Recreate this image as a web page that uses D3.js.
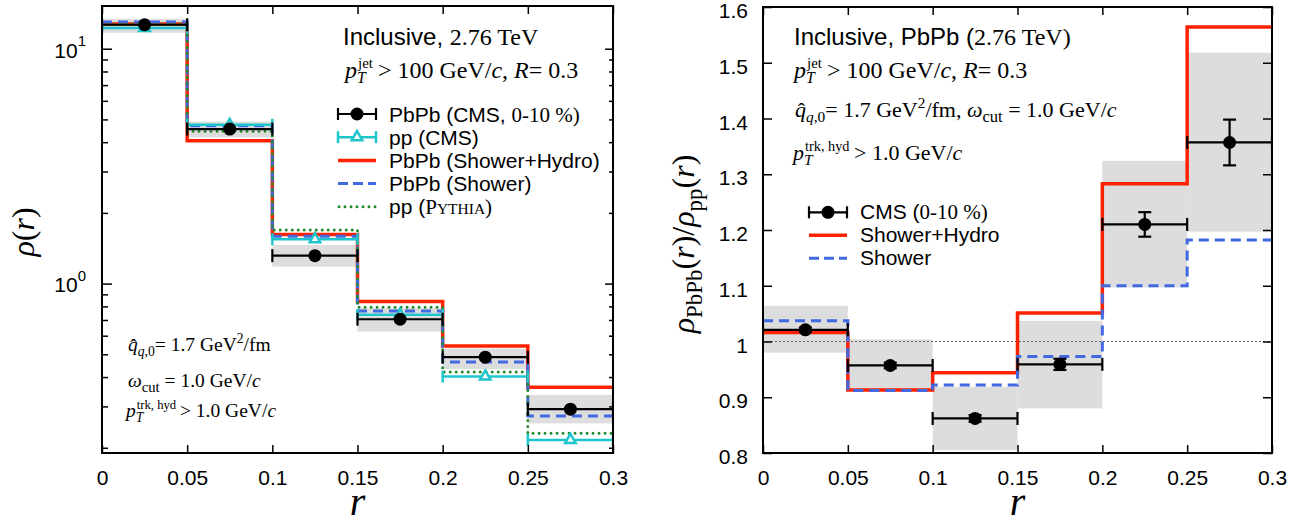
<!DOCTYPE html>
<html>
<head>
<meta charset="utf-8">
<script src="https://cdn.jsdelivr.net/npm/d3@7"></script>
<style>
  body { margin: 0; background: #fff; }
  text { white-space: pre; }
</style>
</head>
<body>
<svg id="chart" width="1308" height="525"></svg>
<script>
// ---- data ----
const binEdges = [0, 0.05, 0.1, 0.15, 0.2, 0.25, 0.3];
const binCenters = [0.025, 0.075, 0.125, 0.175, 0.225, 0.275];
const xTicks = [0, 0.05, 0.1, 0.15, 0.2, 0.25, 0.3];
const xTickLabels = ["0", "0.05", "0.1", "0.15", "0.2", "0.25", "0.3"];

// left panel: rho(r)
const cmsPbPb = [12.65, 4.55, 1.315, 0.705, 0.486, 0.292];
const cmsPbPbSysLo = [11.7, 4.19, 1.18, 0.625, 0.432, 0.254];
const cmsPbPbSysHi = [13.4, 4.90, 1.46, 0.785, 0.528, 0.336];
const cmsPp = [12.25, 4.74, 1.546, 0.736, 0.402, 0.216];
const showerHydro = [12.75, 4.06, 1.62, 0.838, 0.542, 0.362];
const shower = [13.0, 4.70, 1.59, 0.765, 0.464, 0.273];
const pythia = [12.7, 4.45, 1.69, 0.793, 0.42, 0.2305];
const logMajor = [1, 10];
const logMinor = [0.2, 0.3, 0.4, 0.5, 0.6, 0.7, 0.8, 0.9, 2, 3, 4, 5, 6, 7, 8, 9];

// right panel: ratio PbPb / pp
const ratioCms = [1.021, 0.957, 0.862, 0.959, 1.210, 1.357];
const ratioStat = [0.004, 0.005, 0.006, 0.010, 0.022, 0.041];
const ratioSysLo = [0.980, 0.913, 0.805, 0.880, 1.097, 1.197];
const ratioSysHi = [1.064, 1.004, 0.919, 1.037, 1.324, 1.518];
const ratioShowerHydro = [1.016, 0.913, 0.944, 1.051, 1.283, 1.564];
const ratioShower = [1.037, 0.912, 0.922, 0.973, 1.100, 1.182];
const ratioTicks = [0.8, 0.9, 1, 1.1, 1.2, 1.3, 1.4, 1.5, 1.6];
const ratioTickLabels = ["0.8", "0.9", "1", "1.1", "1.2", "1.3", "1.4", "1.5", "1.6"];

// ---- styles ----
const SANS = "'Liberation Sans', Arial, Helvetica, sans-serif";
const SERIF = "'Liberation Serif', 'Times New Roman', serif";
const RED = "#ff2200", BLUE = "#4169e1", GREEN = "#24892a", CYAN = "#1ec6cc", BAND = "#dddddd";

const svg = d3.select("#chart");

// text made of pieces (sub/superscripts, mixed fonts); returns width
function rich(g, x, y, segs) {
  let cx = x, prevStart = x;
  segs.forEach(sg => {
    const start = sg.stack ? prevStart : cx;
    const el = g.append("text")
      .attr("x", start + (sg.dx || 0))
      .attr("y", y + (sg.dy || 0))
      .attr("font-family", sg.f === "sans" ? SANS : SERIF)
      .attr("font-size", sg.s)
      .attr("font-style", sg.i ? "italic" : null)
      .attr("fill", "#000")
      .text(sg.t);
    const w = el.node().getComputedTextLength();
    if (sg.stack) cx = Math.max(cx, start + w);
    else { prevStart = start; cx = start + w; }
  });
  return cx - x;
}

function stepLine(x, y, vals) {
  const pts = vals.map((v, i) => [binEdges[i], v]);
  pts.push([binEdges[binEdges.length - 1], vals[vals.length - 1]]);
  return d3.line().x(d => x(d[0])).y(d => y(d[1])).curve(d3.curveStepAfter)(pts);
}

function frameAndTicks(g, x, left, right, top, bottom) {
  g.append("g").attr("transform", `translate(0,${bottom})`)
    .call(d3.axisBottom(x).tickValues(xTicks).tickSize(-8).tickSizeOuter(0).tickPadding(17)
      .tickFormat((d, i) => xTickLabels[i]))
    .call(a => a.select(".domain").remove())
    .call(a => a.selectAll(".tick line").attr("stroke-width", 1.5))
    .call(a => a.selectAll(".tick text").attr("font-family", SANS).attr("font-size", 21).attr("fill", "#000"));
  g.append("g").attr("transform", `translate(0,${top})`)
    .call(d3.axisTop(x).tickValues(xTicks).tickSize(-8).tickSizeOuter(0).tickFormat(""))
    .call(a => a.select(".domain").remove())
    .call(a => a.selectAll(".tick line").attr("stroke-width", 1.5));
  g.append("rect")
    .attr("x", left).attr("y", top).attr("width", right - left).attr("height", bottom - top)
    .attr("fill", "none").attr("stroke", "#000").attr("stroke-width", 2);
}

// annotation pieces, s = base font size
const ptJet = s => [
  { t: "p", s: s, i: true },
  { t: "T", s: s * 0.66, i: true, dy: s * 0.22 },
  { t: "jet", s: s * 0.62, dy: -s * 0.4, stack: true, dx: 1 },
  { t: " > 100 GeV/", s: s },
  { t: "c", s: s, i: true },
  { t: ", ", s: s },
  { t: "R", s: s, i: true },
  { t: "= 0.3", s: s }
];
const qhat = s => [
  { t: "q", s: s, i: true },
  { t: "ˆ", s: s, stack: true, dx: s * 0.12, dy: s * 0.06 },
  { t: "q", s: s * 0.7, i: true, dy: s * 0.24 },
  { t: ",0", s: s * 0.7, dy: s * 0.24 },
  { t: "= 1.7 GeV", s: s },
  { t: "2", s: s * 0.7, dy: -s * 0.4 },
  { t: "/fm", s: s }
];
const wcut = s => [
  { t: "ω", s: s, i: true },
  { t: "cut", s: s * 0.75, dy: s * 0.24 },
  { t: " = 1.0 GeV/", s: s },
  { t: "c", s: s, i: true }
];
const ptrk = s => [
  { t: "p", s: s, i: true },
  { t: "T", s: s * 0.7, i: true, dy: s * 0.24 },
  { t: "trk, hyd", s: s * 0.65, dy: -s * 0.4, stack: true, dx: 1 },
  { t: " > 1.0 GeV/", s: s },
  { t: "c", s: s, i: true }
];

// =================== LEFT PANEL ===================
const L = { left: 102, right: 613, top: 6, bottom: 453 };
const xL = d3.scaleLinear().domain([0, 0.3]).range([L.left, L.right]);
const yL = d3.scaleLog().domain([0.19, 15.2]).range([L.bottom, L.top]);
const gL = svg.append("g");

svg.append("clipPath").attr("id", "clipL").append("rect")
  .attr("x", L.left).attr("y", L.top).attr("width", L.right - L.left).attr("height", L.bottom - L.top);
const pL = gL.append("g").attr("clip-path", "url(#clipL)");

// systematic bands
pL.selectAll("rect.band").data(cmsPbPb).join("rect")
  .attr("x", (d, i) => xL(binEdges[i]))
  .attr("width", (d, i) => xL(binEdges[i + 1]) - xL(binEdges[i]))
  .attr("y", (d, i) => yL(cmsPbPbSysHi[i]))
  .attr("height", (d, i) => yL(cmsPbPbSysLo[i]) - yL(cmsPbPbSysHi[i]))
  .attr("fill", BAND);

pL.append("path").attr("d", stepLine(xL, yL, showerHydro))
  .attr("fill", "none").attr("stroke", RED).attr("stroke-width", 3.5);
pL.append("path").attr("d", stepLine(xL, yL, shower))
  .attr("fill", "none").attr("stroke", BLUE).attr("stroke-width", 3).attr("stroke-dasharray", "10,6");
pL.append("path").attr("d", stepLine(xL, yL, pythia))
  .attr("fill", "none").attr("stroke", GREEN).attr("stroke-width", 3)
  .attr("stroke-dasharray", "0,6").attr("stroke-linecap", "round");

// pp CMS: horizontal bars with caps + open triangle
const ppG = pL.append("g").attr("stroke", CYAN).attr("stroke-width", 2.5).attr("fill", "none");
cmsPp.forEach((v, i) => {
  const yy = yL(v), x0 = xL(binEdges[i]), x1 = xL(binEdges[i + 1]);
  ppG.append("line").attr("x1", x0).attr("x2", x1).attr("y1", yy).attr("y2", yy);
  ppG.append("line").attr("x1", x0).attr("x2", x0).attr("y1", yy - 6).attr("y2", yy + 6);
  ppG.append("line").attr("x1", x1).attr("x2", x1).attr("y1", yy - 6).attr("y2", yy + 6);
  ppG.append("path").attr("d", d3.symbol(d3.symbolTriangle, 48)())
    .attr("transform", `translate(${xL(binCenters[i])},${yy})`).attr("fill", "#fff");
});

// PbPb CMS: black points with horizontal bars
const cmsG = pL.append("g").attr("stroke", "#000").attr("stroke-width", 2.2);
cmsPbPb.forEach((v, i) => {
  const yy = yL(v), x0 = xL(binEdges[i]), x1 = xL(binEdges[i + 1]);
  cmsG.append("line").attr("x1", x0).attr("x2", x1).attr("y1", yy).attr("y2", yy);
  cmsG.append("line").attr("x1", x0).attr("x2", x0).attr("y1", yy - 6.5).attr("y2", yy + 6.5);
  cmsG.append("line").attr("x1", x1).attr("x2", x1).attr("y1", yy - 6.5).attr("y2", yy + 6.5);
  cmsG.append("circle").attr("cx", xL(binCenters[i])).attr("cy", yy).attr("r", 6.5)
    .attr("fill", "#000").attr("stroke", "none");
});

// log axis ticks
gL.append("g").attr("transform", `translate(${L.left},0)`)
  .call(d3.axisLeft(yL).tickValues(logMinor).tickSize(-6).tickFormat(""))
  .call(a => a.select(".domain").remove())
  .call(a => a.selectAll(".tick line").attr("stroke-width", 1.5));
gL.append("g").attr("transform", `translate(${L.left},0)`)
  .call(d3.axisLeft(yL).tickValues(logMajor).tickSize(-10).tickPadding(16).tickFormat(""))
  .call(a => a.select(".domain").remove())
  .call(a => a.selectAll(".tick line").attr("stroke-width", 1.5))
  .call(a => a.selectAll(".tick text").each(function (d) {
    const t = d3.select(this).attr("font-family", SANS).attr("font-size", 21).attr("fill", "#000").attr("dy", "0.4em");
    t.append("tspan").text("10");
    t.append("tspan").attr("font-size", 15).attr("dy", "-0.75em").text(String(Math.round(Math.log10(d))));
  }));
gL.append("g").attr("transform", `translate(${L.right},0)`)
  .call(d3.axisRight(yL).tickValues(logMinor).tickSize(-4).tickFormat(""))
  .call(a => a.select(".domain").remove())
  .call(a => a.selectAll(".tick line").attr("stroke-width", 1.5));
gL.append("g").attr("transform", `translate(${L.right},0)`)
  .call(d3.axisRight(yL).tickValues(logMajor).tickSize(-8).tickFormat(""))
  .call(a => a.select(".domain").remove())
  .call(a => a.selectAll(".tick line").attr("stroke-width", 1.5));

frameAndTicks(gL, xL, L.left, L.right, L.top, L.bottom);

// left texts
rich(gL, 343, 45, [
  { t: "Inclusive, ", f: "sans", s: 24 },
  { t: "2.76 TeV", s: 24 }
]);
rich(gL, 345, 78, ptJet(24));
rich(gL, 128, 351, qhat(19.5));
rich(gL, 128, 387, wcut(19.5));
rich(gL, 126, 417, ptrk(19.5));

// left legend
const legL = gL.append("g");
const lgX1 = 338, lgX2 = 376, lgTx = 389;
const lgRows = [114, 137.2, 160.4, 183.6, 206.8];
legL.append("line").attr("x1", lgX1).attr("x2", lgX2).attr("y1", lgRows[0]).attr("y2", lgRows[0]).attr("stroke", "#000").attr("stroke-width", 2.2);
[lgX1, lgX2].forEach(xx => legL.append("line").attr("x1", xx).attr("x2", xx).attr("y1", lgRows[0] - 6).attr("y2", lgRows[0] + 6).attr("stroke", "#000").attr("stroke-width", 2.2));
legL.append("circle").attr("cx", (lgX1 + lgX2) / 2).attr("cy", lgRows[0]).attr("r", 6.5).attr("fill", "#000");
legL.append("line").attr("x1", lgX1).attr("x2", lgX2).attr("y1", lgRows[1]).attr("y2", lgRows[1]).attr("stroke", CYAN).attr("stroke-width", 2.5);
[lgX1, lgX2].forEach(xx => legL.append("line").attr("x1", xx).attr("x2", xx).attr("y1", lgRows[1] - 6).attr("y2", lgRows[1] + 6).attr("stroke", CYAN).attr("stroke-width", 2.5));
legL.append("path").attr("d", d3.symbol(d3.symbolTriangle, 48)()).attr("transform", `translate(${(lgX1 + lgX2) / 2},${lgRows[1]})`)
  .attr("fill", "#fff").attr("stroke", CYAN).attr("stroke-width", 2.5);
legL.append("line").attr("x1", lgX1).attr("x2", lgX2).attr("y1", lgRows[2]).attr("y2", lgRows[2]).attr("stroke", RED).attr("stroke-width", 3.5);
legL.append("line").attr("x1", lgX1).attr("x2", lgX2).attr("y1", lgRows[3]).attr("y2", lgRows[3]).attr("stroke", BLUE).attr("stroke-width", 3).attr("stroke-dasharray", "10,5");
legL.append("line").attr("x1", lgX1 + 1).attr("x2", lgX2).attr("y1", lgRows[4]).attr("y2", lgRows[4]).attr("stroke", GREEN).attr("stroke-width", 3).attr("stroke-dasharray", "0,6").attr("stroke-linecap", "round");
rich(legL, lgTx, lgRows[0] + 7.5, [{ t: "PbPb (CMS, ", f: "sans", s: 21 }, { t: "0-10 %)", s: 21 }]);
rich(legL, lgTx, lgRows[1] + 7.5, [{ t: "pp (CMS)", f: "sans", s: 21 }]);
rich(legL, lgTx, lgRows[2] + 7.5, [{ t: "PbPb (Shower+Hydro)", f: "sans", s: 21 }]);
rich(legL, lgTx, lgRows[3] + 7.5, [{ t: "PbPb (Shower)", f: "sans", s: 21 }]);
rich(legL, lgTx, lgRows[4] + 7.5, [{ t: "pp (", f: "sans", s: 21 }, { t: "P", s: 21 }, { t: "YTHIA", s: 15.5 }, { t: ")", s: 21 }]);

// axis labels
const ylabL = gL.append("g");
const wL = rich(ylabL, 0, 0, [{ t: "ρ", s: 32, i: true }, { t: "(", s: 32 }, { t: "r", s: 32, i: true }, { t: ")", s: 32 }]);
ylabL.attr("transform", `translate(34,232) rotate(-90) translate(${-wL / 2},0)`);
gL.append("text").attr("x", xL(0.15)).attr("y", 515).attr("text-anchor", "middle")
  .attr("font-family", SERIF).attr("font-style", "italic").attr("font-size", 40).text("r");

// =================== RIGHT PANEL ===================
const R = { left: 763, right: 1272, top: 7, bottom: 453 };
const xR = d3.scaleLinear().domain([0, 0.3]).range([R.left, R.right]);
const yR = d3.scaleLinear().domain([0.8, 1.6]).range([R.bottom, R.top]);
const gR = svg.append("g");

svg.append("clipPath").attr("id", "clipR").append("rect")
  .attr("x", R.left).attr("y", R.top).attr("width", R.right - R.left).attr("height", R.bottom - R.top);
const pR = gR.append("g").attr("clip-path", "url(#clipR)");

pR.selectAll("rect.band").data(ratioCms).join("rect")
  .attr("x", (d, i) => xR(binEdges[i]))
  .attr("width", (d, i) => xR(binEdges[i + 1]) - xR(binEdges[i]))
  .attr("y", (d, i) => yR(ratioSysHi[i]))
  .attr("height", (d, i) => yR(ratioSysLo[i]) - yR(ratioSysHi[i]))
  .attr("fill", BAND);

pR.append("line").attr("x1", xR(0)).attr("x2", xR(0.3)).attr("y1", yR(1)).attr("y2", yR(1))
  .attr("stroke", "#666").attr("stroke-width", 1.2).attr("stroke-dasharray", "2,2");

pR.append("path").attr("d", stepLine(xR, yR, ratioShowerHydro))
  .attr("fill", "none").attr("stroke", RED).attr("stroke-width", 3.5);
pR.append("path").attr("d", stepLine(xR, yR, ratioShower))
  .attr("fill", "none").attr("stroke", BLUE).attr("stroke-width", 3).attr("stroke-dasharray", "10,6");

const rcG = pR.append("g").attr("stroke", "#000").attr("stroke-width", 2.2);
ratioCms.forEach((v, i) => {
  const yy = yR(v), x0 = xR(binEdges[i]), x1 = xR(binEdges[i + 1]), xc = xR(binCenters[i]);
  rcG.append("line").attr("x1", x0).attr("x2", x1).attr("y1", yy).attr("y2", yy);
  rcG.append("line").attr("x1", x0).attr("x2", x0).attr("y1", yy - 6.5).attr("y2", yy + 6.5);
  rcG.append("line").attr("x1", x1).attr("x2", x1).attr("y1", yy - 6.5).attr("y2", yy + 6.5);
  const ya = yR(v + ratioStat[i]), yb = yR(v - ratioStat[i]);
  rcG.append("line").attr("x1", xc).attr("x2", xc).attr("y1", ya).attr("y2", yb);
  rcG.append("line").attr("x1", xc - 6.5).attr("x2", xc + 6.5).attr("y1", ya).attr("y2", ya);
  rcG.append("line").attr("x1", xc - 6.5).attr("x2", xc + 6.5).attr("y1", yb).attr("y2", yb);
  rcG.append("circle").attr("cx", xc).attr("cy", yy).attr("r", 6.5).attr("fill", "#000").attr("stroke", "none");
});

gR.append("g").attr("transform", `translate(${R.left},0)`)
  .call(d3.axisLeft(yR).tickValues(ratioTicks).tickSize(-9).tickPadding(15).tickFormat((d, i) => ratioTickLabels[i]))
  .call(a => a.select(".domain").remove())
  .call(a => a.selectAll(".tick line").attr("stroke-width", 1.5))
  .call(a => a.selectAll(".tick text").attr("font-family", SANS).attr("font-size", 21).attr("fill", "#000").attr("dy", "0.5em"));
gR.append("g").attr("transform", `translate(${R.right},0)`)
  .call(d3.axisRight(yR).tickValues(ratioTicks).tickSize(-9).tickFormat(""))
  .call(a => a.select(".domain").remove())
  .call(a => a.selectAll(".tick line").attr("stroke-width", 1.5));

frameAndTicks(gR, xR, R.left, R.right, R.top, R.bottom);

// right texts
rich(gR, 794, 45, [
  { t: "Inclusive, PbPb (", f: "sans", s: 24 },
  { t: "2.76 TeV)", s: 24 }
]);
rich(gR, 794, 78, ptJet(24));
rich(gR, 795, 117, qhat(22).concat([{ t: ", ", s: 22 }], wcut(22)));
rich(gR, 793, 160, ptrk(22));

// right legend
const legR = gR.append("g");
const rgX1 = 809, rgX2 = 847, rgTx = 860;
const rgRows = [212.3, 235.3, 258.3];
legR.append("line").attr("x1", rgX1).attr("x2", rgX2).attr("y1", rgRows[0]).attr("y2", rgRows[0]).attr("stroke", "#000").attr("stroke-width", 2.2);
[rgX1, rgX2].forEach(xx => legR.append("line").attr("x1", xx).attr("x2", xx).attr("y1", rgRows[0] - 6).attr("y2", rgRows[0] + 6).attr("stroke", "#000").attr("stroke-width", 2.2));
legR.append("circle").attr("cx", (rgX1 + rgX2) / 2).attr("cy", rgRows[0]).attr("r", 6.5).attr("fill", "#000");
legR.append("line").attr("x1", rgX1).attr("x2", rgX2).attr("y1", rgRows[1]).attr("y2", rgRows[1]).attr("stroke", RED).attr("stroke-width", 3.5);
legR.append("line").attr("x1", rgX1).attr("x2", rgX2).attr("y1", rgRows[2]).attr("y2", rgRows[2]).attr("stroke", BLUE).attr("stroke-width", 3).attr("stroke-dasharray", "10,5");
rich(legR, rgTx, rgRows[0] + 7, [{ t: "CMS (", f: "sans", s: 21 }, { t: "0-10 %)", s: 21 }]);
rich(legR, rgTx, rgRows[1] + 7, [{ t: "Shower+Hydro", f: "sans", s: 21 }]);
rich(legR, rgTx, rgRows[2] + 7, [{ t: "Shower", f: "sans", s: 21 }]);

const ylabR = gR.append("g");
const wR = rich(ylabR, 0, 0, [
  { t: "ρ", s: 32, i: true },
  { t: "PbPb", s: 23, dy: 8 },
  { t: "(", s: 32 }, { t: "r", s: 32, i: true }, { t: ")/", s: 32 },
  { t: "ρ", s: 32, i: true },
  { t: "pp", s: 23, dy: 8 },
  { t: "(", s: 32 }, { t: "r", s: 32, i: true }, { t: ")", s: 32 }
]);
ylabR.attr("transform", `translate(694,244) rotate(-90) translate(${-wR / 2},0)`);
gR.append("text").attr("x", xR(0.15)).attr("y", 515).attr("text-anchor", "middle")
  .attr("font-family", SERIF).attr("font-style", "italic").attr("font-size", 40).text("r");
</script>
</body>
</html>
